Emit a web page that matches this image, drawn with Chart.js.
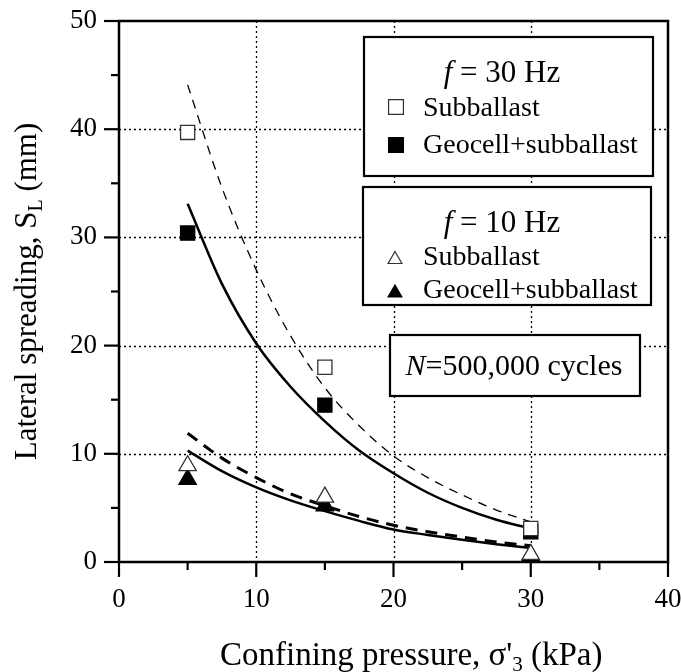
<!DOCTYPE html>
<html>
<head>
<meta charset="utf-8">
<script src="https://cdn.jsdelivr.net/npm/chart.js@4.4.1/dist/chart.umd.min.js"></script>
<style>
  html, body { margin: 0; padding: 0; background: #fff; }
  #wrap { width: 681px; height: 672px; }
</style>
</head>
<body>
<div id="wrap"><canvas id="lateralChart" width="681" height="672"></canvas></div>
<script>
// confining pressures (kPa) used in the tests
const pressures = [5, 15, 30];

// measured lateral spreading S_L (mm) at N = 500,000 cycles
const sub30 = [39.7, 18.0, 3.1];
const geo30 = [30.4, 14.5, 2.8];
const sub10 = [8.9, 6.0, 0.7];
const geo10 = [7.65, 5.2, 0.6];

// trend curves, every 2.5 kPa
const fitX = [5, 7.5, 10, 12.5, 15, 17.5, 20, 22.5, 25, 27.5, 30];
const fitSub30 = [44.1, 34.6, 27.0, 20.9, 16.1, 12.6, 9.8, 7.8, 6.2, 4.8, 3.7];
const fitGeo30 = [33.1, 25.7, 20.2, 16.2, 13.0, 10.3, 8.2, 6.4, 5.0, 3.9, 3.1];
const fitSub10 = [11.9, 9.6, 7.8, 6.3, 5.2, 4.2, 3.4, 2.8, 2.3, 1.85, 1.5];
const fitGeo10 = [10.3, 8.4, 6.9, 5.7, 4.7, 3.8, 3.0, 2.5, 2.05, 1.65, 1.3];

const xTicks = [0, 10, 20, 30, 40];
const yTicks = [0, 10, 20, 30, 40, 50];
const xMinor = [5, 15, 25, 35];
const yMinor = [5, 15, 25, 35, 45];

const FONT = '"Liberation Serif", "Times New Roman", serif';

function pts(xs, ys) {
    return xs.map((x, i) => ({ x: x, y: ys[i] }));
}

function markers(label, data, style, filled, order) {
    return {
        type: 'scatter',
        label: label,
        data: pts(pressures, data),
        pointStyle: style,
        pointRadius: 10,
        pointHoverRadius: 10,
        pointBackgroundColor: filled ? '#000' : '#fff',
        pointBorderColor: filled ? '#000' : '#333',
        pointBorderWidth: 1.3,
        showLine: false,
        order: order
    };
}

function curve(label, data, width, dash) {
    return {
        type: 'line',
        label: label,
        data: pts(fitX, data),
        borderColor: '#000',
        borderWidth: width,
        borderDash: dash,
        pointRadius: 0,
        fill: false,
        showLine: true,
        cubicInterpolationMode: 'monotone',
        order: 5
    };
}

// draw a run of text pieces (italic / subscript) starting at x
function drawRuns(ctx, runs, x, y, align) {
    let total = 0;
    runs.forEach(r => {
        ctx.font = (r.italic ? 'italic ' : '') + r.size + 'px ' + FONT;
        r.w = ctx.measureText(r.t).width;
        total += r.w;
    });
    let cx = align === 'center' ? x - total / 2 : x;
    ctx.textAlign = 'left';
    ctx.textBaseline = 'alphabetic';
    ctx.fillStyle = '#000';
    runs.forEach(r => {
        ctx.font = (r.italic ? 'italic ' : '') + r.size + 'px ' + FONT;
        ctx.fillText(r.t, cx, y + (r.dy || 0));
        cx += r.w;
    });
}

function legendMark(ctx, style, filled, x, y, r) {
    ctx.save();
    ctx.fillStyle = filled ? '#000' : '#fff';
    ctx.strokeStyle = filled ? '#000' : '#333';
    ctx.lineWidth = 1.2;
    Chart.helpers.drawPoint(ctx, { pointStyle: style, radius: r, rotation: 0, borderWidth: 1.2 }, x, y);
    ctx.restore();
}

const framePlugin = {
    id: 'frame',
    beforeDatasetsDraw(chart) {
        const ctx = chart.ctx;
        const a = chart.chartArea;
        const xs = chart.scales.x, ys = chart.scales.y;
        ctx.save();
        ctx.strokeStyle = '#000';
        ctx.lineWidth = 1.3;
        ctx.setLineDash([2, 3]);
        xTicks.slice(1, -1).forEach(v => {
            const px = Math.round(xs.getPixelForValue(v)) + 0.5;
            ctx.beginPath(); ctx.moveTo(px, a.top); ctx.lineTo(px, a.bottom); ctx.stroke();
        });
        yTicks.slice(1, -1).forEach(v => {
            const py = Math.round(ys.getPixelForValue(v)) + 0.5;
            ctx.beginPath(); ctx.moveTo(a.left, py); ctx.lineTo(a.right, py); ctx.stroke();
        });
        ctx.restore();
    },
    afterDatasetsDraw(chart) {
        const ctx = chart.ctx;
        const a = chart.chartArea;
        const xs = chart.scales.x, ys = chart.scales.y;
        ctx.save();
        ctx.strokeStyle = '#000';
        ctx.setLineDash([]);
        // outer frame
        ctx.lineWidth = 2.5;
        ctx.strokeRect(a.left, a.top, a.right - a.left, a.bottom - a.top);
        // outward ticks
        ctx.lineWidth = 2.2;
        xTicks.forEach(v => {
            const px = xs.getPixelForValue(v);
            ctx.beginPath(); ctx.moveTo(px, a.bottom); ctx.lineTo(px, a.bottom + 15); ctx.stroke();
        });
        xMinor.forEach(v => {
            const px = xs.getPixelForValue(v);
            ctx.beginPath(); ctx.moveTo(px, a.bottom); ctx.lineTo(px, a.bottom + 8); ctx.stroke();
        });
        yTicks.forEach(v => {
            const py = ys.getPixelForValue(v);
            ctx.beginPath(); ctx.moveTo(a.left, py); ctx.lineTo(a.left - 15, py); ctx.stroke();
        });
        yMinor.forEach(v => {
            const py = ys.getPixelForValue(v);
            ctx.beginPath(); ctx.moveTo(a.left, py); ctx.lineTo(a.left - 8, py); ctx.stroke();
        });

        // legend boxes
        ctx.lineWidth = 2.2;
        [[364, 37, 289, 139], [363, 187, 288, 118], [390, 335, 250, 61]].forEach(b => {
            ctx.fillStyle = '#fff';
            ctx.fillRect(b[0], b[1], b[2], b[3]);
            ctx.strokeRect(b[0], b[1], b[2], b[3]);
        });
        drawRuns(ctx, [{ t: 'f', size: 31, italic: true }, { t: ' = 30 Hz', size: 31 }], 502, 82, 'center');
        legendMark(ctx, 'rect', false, 396, 107, 10.5);
        drawRuns(ctx, [{ t: 'Subballast', size: 28 }], 423, 116);
        legendMark(ctx, 'rect', true, 396, 145, 10.5);
        drawRuns(ctx, [{ t: 'Geocell+subballast', size: 28 }], 423, 153);

        drawRuns(ctx, [{ t: 'f', size: 31, italic: true }, { t: ' = 10 Hz', size: 31 }], 502, 232, 'center');
        legendMark(ctx, 'triangle', false, 395, 259.5, 8);
        drawRuns(ctx, [{ t: 'Subballast', size: 28 }], 423, 265);
        legendMark(ctx, 'triangle', true, 395, 293, 8);
        drawRuns(ctx, [{ t: 'Geocell+subballast', size: 28 }], 423, 298);

        drawRuns(ctx, [{ t: 'N', size: 30, italic: true }, { t: '=500,000 cycles', size: 30 }], 514, 375, 'center');
        ctx.restore();
    },
    afterDraw(chart) {
        const ctx = chart.ctx;
        const a = chart.chartArea;
        ctx.save();
        // x title
        drawRuns(ctx, [
            { t: 'Confining pressure, \u03c3\'', size: 33 },
            { t: '3', size: 21, dy: 6 },
            { t: ' (kPa)', size: 33 }
        ], 220, 665);
        // y title, rotated
        ctx.translate(36, (a.top + a.bottom) / 2);
        ctx.rotate(-Math.PI / 2);
        drawRuns(ctx, [
            { t: 'Lateral spreading, S', size: 31 },
            { t: 'L', size: 20, dy: 6 },
            { t: ' (mm)', size: 31 }
        ], 0, 0, 'center');
        ctx.restore();
    }
};

const ctx = document.getElementById('lateralChart').getContext('2d');
new Chart(ctx, {
    type: 'scatter',
    data: {
        datasets: [
            markers('Subballast (30 Hz)', sub30, 'rect', false, 1),
            markers('Geocell+subballast (30 Hz)', geo30, 'rect', true, 2),
            markers('Subballast (10 Hz)', sub10, 'triangle', false, 1),
            markers('Geocell+subballast (10 Hz)', geo10, 'triangle', true, 2),
            curve('Fit subballast 30 Hz', fitSub30, 1.3, [9, 7]),
            curve('Fit geocell 30 Hz', fitGeo30, 2.5, []),
            curve('Fit subballast 10 Hz', fitSub10, 3, [12, 8]),
            curve('Fit geocell 10 Hz', fitGeo10, 2.5, [])
        ]
    },
    options: {
        responsive: false,
        animation: false,
        devicePixelRatio: 1,
        layout: { padding: { top: 21, right: 13, left: 0, bottom: 0 } },
        plugins: {
            legend: { display: false },
            tooltip: { enabled: false }
        },
        scales: {
            x: {
                type: 'linear',
                min: 0,
                max: 40,
                afterFit(scale) {
                    scale.height = 110;
                    scale.paddingLeft = 0;
                    scale.paddingRight = 0;
                },
                afterBuildTicks(scale) { scale.ticks = xTicks.map(v => ({ value: v })); },
                grid: { display: false },
                border: { display: false },
                ticks: {
                    padding: 14,
                    color: '#000',
                    maxRotation: 0,
                    font: { family: FONT, size: 27 }
                }
            },
            y: {
                type: 'linear',
                min: 0,
                max: 50,
                afterFit(scale) {
                    scale.width = 119;
                    scale.paddingTop = 0;
                    scale.paddingBottom = 0;
                },
                afterBuildTicks(scale) { scale.ticks = yTicks.map(v => ({ value: v })); },
                grid: { display: false },
                border: { display: false },
                ticks: {
                    padding: 14,
                    color: '#000',
                    font: { family: FONT, size: 27 }
                }
            }
        }
    },
    plugins: [framePlugin]
});
</script>
</body>
</html>
